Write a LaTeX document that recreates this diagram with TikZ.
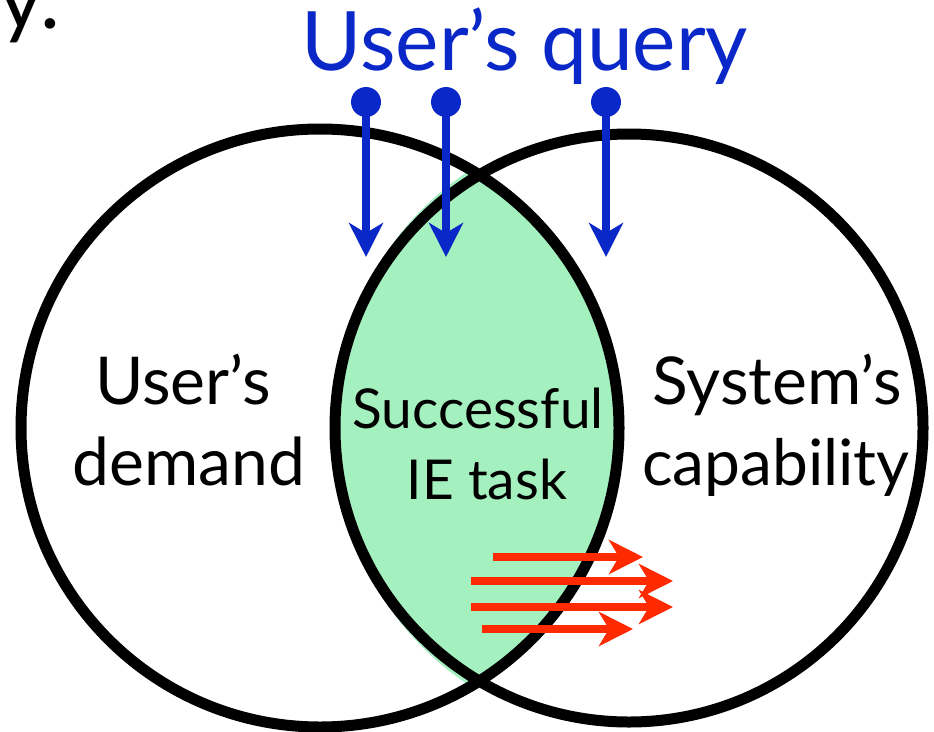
\documentclass[tikz,border=0pt]{standalone}
\usepackage{fontspec}
\setmainfont{Lato}
\usetikzlibrary{arrows.meta}
\definecolor{queryblue}{RGB}{10,40,200}
\definecolor{lensgreen}{RGB}{164,240,190}
\definecolor{flowred}{RGB}{255,42,0}
\begin{document}
\begin{tikzpicture}[x=1pt,y=-1pt,
  ring/.style={line width=11pt},
  qdot/.style={circle, fill=queryblue, inner sep=0pt, minimum size=30pt},
  qarrow/.style={queryblue, line width=8pt, -{Stealth[length=34pt,width=34pt,inset=10pt]}},
  rarrow/.style={flowred, line width=8pt, -{Stealth[length=34pt,width=34pt,inset=10pt]}},
  bigtext/.style={font=\fontsize{66}{78}\selectfont, anchor=base},
  lenstext/.style={font=\fontsize{55}{66}\selectfont, anchor=base}]
\useasboundingbox (0,0) rectangle (934,731);

% circle centres
\coordinate (L) at (320,428);
\coordinate (R) at (629,428);

% shaded overlap of the two sets
\begin{scope}
  \clip (L) circle[radius=299];
  \fill[lensgreen] (627,428) ellipse[x radius=294, y radius=305];
\end{scope}

% the two sets
\draw[ring] (L) circle[radius=299];
\draw[ring] (R) circle[radius=294];

% labels
\node[bigtext, font=\fontsize{84}{96}\selectfont] (ydot) at (30,28) {y.};
\node[bigtext, text=queryblue, font=\fontsize{82}{94}\selectfont] (query) at (525,70) {User’s query};
\node[bigtext] (ud1) at (183,404) {User’s};
\node[bigtext] (ud2) at (189,485) {demand};
\node[lenstext] (ie1) at (478,428) {Successful};
\node[lenstext] (ie2) at (487,499) {IE task};
\node[bigtext] (sc1) at (777,404) {System’s};
\node[bigtext, font=\fontsize{64}{76}\selectfont] (sc2) at (776,485) {capability};

% query arrows
\node[qdot] (q1) at (366,102) {};
\node[qdot] (q2) at (446,102) {};
\node[qdot] (q3) at (606,102) {};
\coordinate (t1) at (366,257);
\coordinate (t2) at (446,257);
\coordinate (t3) at (606,257);
\draw[qarrow] (q1.center) -- (t1);
\draw[qarrow] (q2.center) -- (t2);
\draw[qarrow] (q3.center) -- (t3);

% expansion arrows
\coordinate (a1) at (493,557); \coordinate (b1) at (643,557);
\coordinate (a2) at (471,581); \coordinate (b2) at (673,581);
\coordinate (a3) at (471,607); \coordinate (b3) at (673,607);
\coordinate (a4) at (482,629); \coordinate (b4) at (633,629);
\draw[rarrow] (a1) -- (b1);
\draw[rarrow] (a2) -- (b2);
\draw[rarrow] (a3) -- (b3);
\draw[rarrow] (a4) -- (b4);
\end{tikzpicture}
\end{document}
